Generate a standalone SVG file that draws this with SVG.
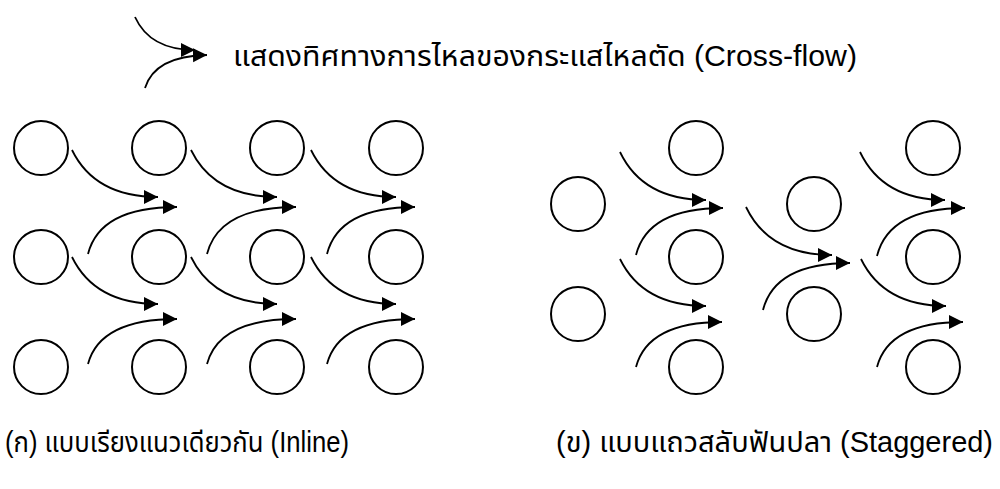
<svg xmlns="http://www.w3.org/2000/svg" width="1000" height="489" viewBox="0 0 1000 489">
<style>
.tube{fill:none;stroke:#000;stroke-width:2}
.flow{fill:none;stroke:#000;stroke-width:1.8;marker-end:url(#ah)}
.lbl{font-family:"Liberation Sans","Noto Sans","Noto Sans Thai",sans-serif;font-size:29px;fill:#000}
</style>
<defs>
<marker id="ah" markerUnits="userSpaceOnUse" markerWidth="16" markerHeight="16" refX="14" refY="7" orient="auto">
<path d="M0,0 L14,7 L0,14 z" fill="#000"/>
</marker>
</defs>
<rect width="1000" height="489" fill="#fff"/>
<g id="legend">
<path class="flow" d="M135,17 Q150,50 195,50"/>
<path class="flow" d="M145,88 Q155,56 207,55"/>
<text class="lbl" x="233" y="66" textLength="624" lengthAdjust="spacingAndGlyphs">แสดงทิศทางการไหลของกระแสไหลตัด (Cross-flow)</text>
</g>
<g id="inline-tubes">
<circle class="tube" cx="41" cy="148" r="27"/><circle class="tube" cx="159" cy="148" r="27"/><circle class="tube" cx="277" cy="148" r="27"/><circle class="tube" cx="396" cy="148" r="27"/>
<circle class="tube" cx="41" cy="257" r="27"/><circle class="tube" cx="159" cy="257" r="27"/><circle class="tube" cx="277" cy="257" r="27"/><circle class="tube" cx="396" cy="257" r="27"/>
<circle class="tube" cx="41" cy="367" r="27"/><circle class="tube" cx="159" cy="367" r="27"/><circle class="tube" cx="277" cy="367" r="27"/><circle class="tube" cx="396" cy="367" r="27"/>
</g>
<g id="staggered-tubes">
<circle class="tube" cx="578" cy="204" r="27"/><circle class="tube" cx="578" cy="314" r="27"/>
<circle class="tube" cx="696" cy="148" r="27"/><circle class="tube" cx="696" cy="257" r="27"/><circle class="tube" cx="696" cy="367" r="27"/>
<circle class="tube" cx="814" cy="204" r="27"/><circle class="tube" cx="814" cy="314" r="27"/>
<circle class="tube" cx="933" cy="148" r="27"/><circle class="tube" cx="933" cy="257" r="27"/><circle class="tube" cx="933" cy="367" r="27"/>
</g>
<g id="connectors">
<path class="flow" d="M72,150 Q95,197 158,197"/>
<path class="flow" d="M88,254 Q100,207 177,207"/>
<path class="flow" d="M72,257 Q95,304 158,304"/>
<path class="flow" d="M88,364 Q100,319 177,319"/>
<path class="flow" d="M191,150 Q214,197 277,197"/>
<path class="flow" d="M207,254 Q219,207 296,207"/>
<path class="flow" d="M191,257 Q214,304 277,304"/>
<path class="flow" d="M207,364 Q219,319 296,319"/>
<path class="flow" d="M311,150 Q334,197 396,197"/>
<path class="flow" d="M327,254 Q339,207 415,207"/>
<path class="flow" d="M311,257 Q334,304 396,304"/>
<path class="flow" d="M327,364 Q339,319 415,319"/>
<path class="flow" d="M620,152 Q643,200 706,200"/>
<path class="flow" d="M636,255 Q648,208 723,208"/>
<path class="flow" d="M620,259 Q643,306 706,306"/>
<path class="flow" d="M636,367 Q648,322 722,322"/>
<path class="flow" d="M746,207 Q769,255 832,255"/>
<path class="flow" d="M763,310 Q775,263 850,263"/>
<path class="flow" d="M860,152 Q883,200 945,200"/>
<path class="flow" d="M877,256 Q889,208 965,208"/>
<path class="flow" d="M861,259 Q884,306 946,306"/>
<path class="flow" d="M877,367 Q889,322 963,322"/>
</g>
<g id="captions">
<text class="lbl" x="5" y="452" textLength="344" lengthAdjust="spacingAndGlyphs">(ก) แบบเรียงแนวเดียวกัน (Inline)</text>
<text class="lbl" x="556" y="452" textLength="437" lengthAdjust="spacingAndGlyphs">(ข) แบบแถวสลับฟันปลา (Staggered)</text>
</g>
</svg>
